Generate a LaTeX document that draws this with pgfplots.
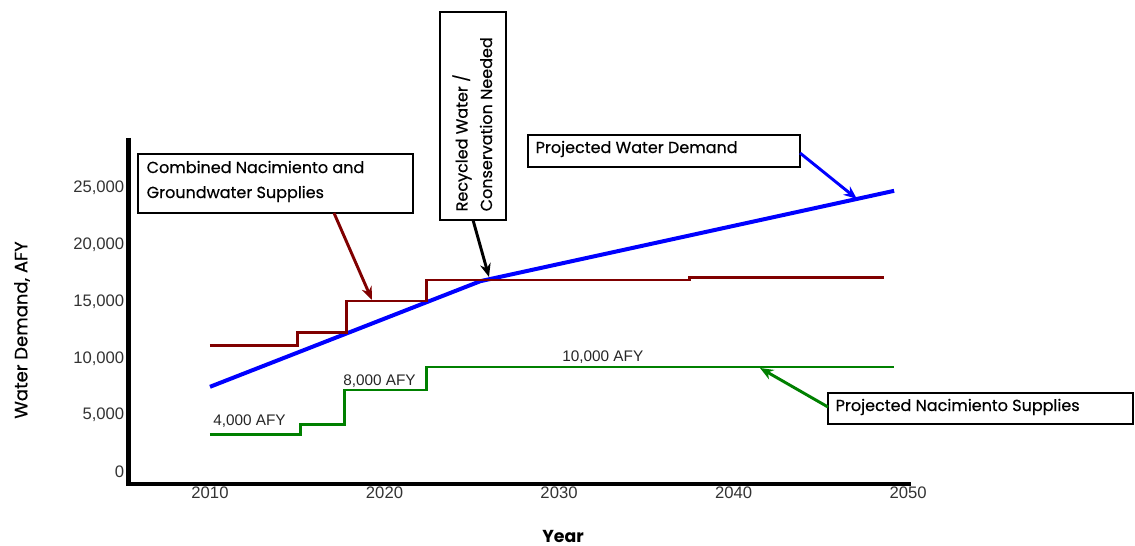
\documentclass[border=0pt]{standalone}
\usepackage{pgfplots}
\pgfplotsset{compat=1.18}
\usepackage{fontspec}
\setmainfont{Liberation Sans}
\newfontfamily\comic{Poppins}
\newfontfamily\comicsb[FakeBold=0.5]{Poppins}
\usetikzlibrary{arrows.meta}

\definecolor{demand}{RGB}{0,0,255}
\definecolor{combined}{RGB}{128,0,0}
\definecolor{naci}{RGB}{0,128,0}

\begin{document}
\begin{tikzpicture}
\begin{axis}[
    scale only axis, width=586.9pt, height=259.5pt,
    xmin=2005.33, xmax=2050.17, ymin=-1056, ymax=29400,
    axis lines=left, axis line style={draw=none},
    major tick length=0pt,
    xtick={2010,2020,2030,2040,2050},
    ytick={0,5000,10000,15000,20000,25000},
    scaled y ticks=false,
    /pgf/number format/assume math mode=true,
    tick label style={font=\fontsize{12.5}{14}\selectfont, text=black!80},
    x tick label style={/pgf/number format/1000 sep={}, inner sep=1pt, yshift=-1pt},
    y tick label style={/pgf/number format/1000 sep={,}, inner sep=1pt, xshift=-2pt},
    clip=false,
]
% projected water demand
\addplot[demand, line width=3pt] coordinates {
    (2010,7500) (2025.5,16800) (2049.2,24750)
};
% combined Nacimiento and groundwater supplies
\addplot[combined, line width=2.2pt, const plot] coordinates {
    (2010,11100) (2015.0,12300) (2017.8,15050) (2022.4,16900) (2037.5,17080) (2048.6,17080)
};
% projected Nacimiento supplies
\addplot[naci, line width=2.2pt, const plot] coordinates {
    (2010,3340) (2015.2,4220) (2017.7,7220) (2022.4,9240) (2049.2,9240)
};
\draw[black, line width=3.5pt, line join=miter] (rel axis cs:0,1) -- (rel axis cs:0,0) -- (rel axis cs:1,0);
\end{axis}

\begin{scope}[shift={(current axis.south west)}, shift={(-96.375pt,363pt)}, x=0.75pt, y=-0.75pt]
  % axis titles
  \node[rotate=90, font=\comicsb\fontsize{13.5}{15}\selectfont] at (22,330) {Water Demand, AFY};
  \node[font=\comic\bfseries\fontsize{13}{15}\selectfont] at (563,536) {Year};

  % level labels
  \begin{scope}[every node/.style={anchor=west, inner sep=0pt, font=\fontsize{11.5}{13}\selectfont, text=black!85}]
    \node at (213,421) {4,000 AFY};
    \node at (343,381) {8,000 AFY};
    \node at (562,357) {10,000 AFY};
  \end{scope}

  % callout boxes
  \begin{scope}[every node/.style={font=\comicsb\fontsize{12}{20}\selectfont}]
    \draw[line width=1pt, fill=white] (138,154) rectangle (413,213);
    \node[anchor=west] at (142,167) {Combined Nacimiento and};
    \node[anchor=west] at (142,194) {Groundwater Supplies};

    \draw[line width=1pt, fill=white] (440,12) rectangle (506,220);
    \node[anchor=west, rotate=90] at (462,216) {Recycled Water /};
    \node[anchor=west, rotate=90] at (486,216) {Conservation Needed};

    \draw[line width=1pt, fill=white] (528,135) rectangle (800,167);
    \node[anchor=west] at (531,149) {Projected Water Demand};

    \draw[line width=1pt, fill=white] (828,393) rectangle (1133,424);
    \node[anchor=west] at (831,407) {Projected Nacimiento Supplies};
  \end{scope}

  % arrows
  \draw[combined, line width=2.2pt, -{Stealth[length=10pt,width=8pt]}] (334,213) -- (372,300);
  \draw[black, line width=2.2pt, -{Stealth[length=10pt,width=8pt]}] (473,220) -- (489,277);
  \draw[demand, line width=2.2pt, -{Stealth[length=10pt,width=8pt]}] (800,153) -- (857,199);
  \draw[naci, line width=2.2pt, -{Stealth[length=10pt,width=8pt]}] (828,407) -- (760,368);
\end{scope}

\begin{scope}[shift={(current axis.south west)}, shift={(-96.375pt,363pt)}, x=0.75pt, y=-0.75pt]
  \pgfresetboundingbox
  \path (0,0) rectangle (1135,546);
\end{scope}
\end{tikzpicture}
\end{document}
